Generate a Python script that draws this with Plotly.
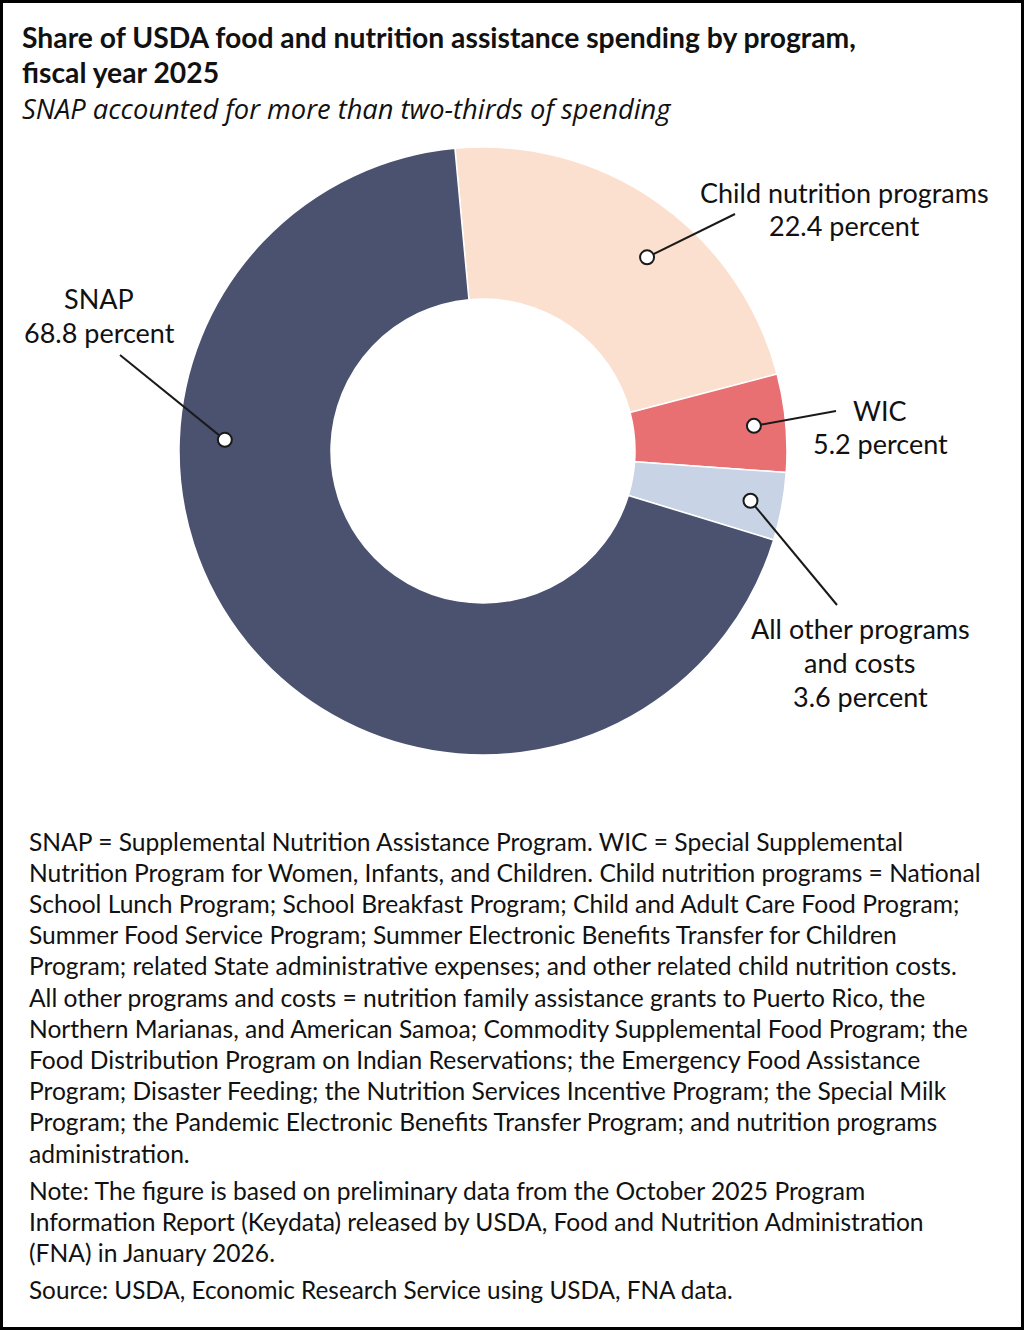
import math
import plotly.graph_objects as go

# ---- data ----
programs = ["Child nutrition programs", "WIC", "All other programs and costs", "SNAP"]
shares = [22.4, 5.2, 3.6, 68.8]
label_lines = [
    ["Child nutrition programs", "22.4 percent"],
    ["WIC", "5.2 percent"],
    ["All other programs", "and costs", "3.6 percent"],
    ["SNAP", "68.8 percent"],
]
colors = ["#fce0cf", "#e87073", "#c8d4e6", "#4a5270"]

title_lines = ["Share of USDA food and nutrition assistance spending by program,", "fiscal year 2025"]
subtitle = "SNAP accounted for more than two-thirds of spending"
notes = [
    "SNAP = Supplemental Nutrition Assistance Program. WIC = Special Supplemental",
    "Nutrition Program for Women, Infants, and Children. Child nutrition programs = National",
    "School Lunch Program; School Breakfast Program; Child and Adult Care Food Program;",
    "Summer Food Service Program; Summer Electronic Benefits Transfer for Children",
    "Program; related State administrative expenses; and other related child nutrition costs.",
    "All other programs and costs = nutrition family assistance grants to Puerto Rico, the",
    "Northern Marianas, and American Samoa; Commodity Supplemental Food Program; the",
    "Food Distribution Program on Indian Reservations; the Emergency Food Assistance",
    "Program; Disaster Feeding; the Nutrition Services Incentive Program; the Special Milk",
    "Program; the Pandemic Electronic Benefits Transfer Program; and nutrition programs",
    "administration.",
]
note2 = [
    "Note: The figure is based on preliminary data from the October 2025 Program",
    "Information Report (Keydata) released by USDA, Food and Nutrition Administration",
    "(FNA) in January 2026.",
]
source = "Source: USDA, Economic Research Service using USDA, FNA data."

# ---- layout geometry (pixels) ----
W, H = 1024, 1330
CX, CY, R = 483, 451, 304
HOLE = 0.5
ROT = -5.3
FONT = "Lato"
TXT = "#111111"

def px(x):
    return x / W

def py(y):
    return 1 - y / H

fig = go.Figure()
fig.add_trace(go.Pie(
    labels=programs, values=shares, sort=False, direction="clockwise",
    rotation=ROT, hole=HOLE, textinfo="none", hoverinfo="label+percent",
    marker=dict(colors=colors, line=dict(color="white", width=1.5)),
    domain=dict(x=[px(CX - R), px(CX + R)], y=[py(CY + R), py(CY - R)]),
    showlegend=False,
))

# leader dots: position within slice (fraction of slice angle, fraction of radius)
dot_pos = [(0.565, 0.835), (0.5, 0.895), (0.5, 0.895), (0.668, 0.85)]
line_end = [(735, 214), (836, 411), (837, 605), (120, 355)]
label_center = [(844, 192), (880, 410), (860, 628), (99, 298)]
LBL_SPACING = 34

total = sum(shares)
shapes = []
annotations = []

def text_line(x, y, s, size, anchor="left", family=FONT):
    annotations.append(dict(x=px(x), y=py(y), xref="paper", yref="paper",
                            text=s, showarrow=False, xanchor=anchor, yanchor="middle",
                            align=anchor, font=dict(family=family, size=size, color=TXT)))

cum = 0.0
for i, v in enumerate(shares):
    frac_a, frac_r = dot_pos[i]
    ang = math.radians(ROT + 360 * (cum + v * frac_a) / total)
    cum += v
    r = R * frac_r
    dx, dy = CX + r * math.sin(ang), CY - r * math.cos(ang)
    ex, ey = line_end[i]
    shapes.append(dict(type="line", xref="paper", yref="paper",
                       x0=px(dx), y0=py(dy), x1=px(ex), y1=py(ey),
                       line=dict(color="#1a1a1a", width=2)))
    rr = 7
    shapes.append(dict(type="circle", xref="paper", yref="paper",
                       x0=px(dx - rr), x1=px(dx + rr), y0=py(dy + rr), y1=py(dy - rr),
                       fillcolor="white", line=dict(color="#1a1a1a", width=2)))
    lx, ly = label_center[i]
    for j, s in enumerate(label_lines[i]):
        text_line(lx, ly + j * LBL_SPACING, s, 27, anchor="center")

# frame
shapes.append(dict(type="rect", xref="paper", yref="paper", x0=0, y0=0, x1=1, y1=1,
                   line=dict(color="black", width=6), fillcolor="rgba(0,0,0,0)"))

for j, s in enumerate(title_lines):
    text_line(20, 37 + j * 35, "<b>" + s + "</b>", 28.3)
text_line(20, 108, "<i>" + subtitle + "</i>", 27.3, family="Open Sans")

for j, s in enumerate(notes):
    text_line(27, 841 + j * 31.2, s, 24.6)
for j, s in enumerate(note2):
    text_line(27, 1190 + j * 31.2, s, 24.6)
text_line(27, 1289, source, 24.3)

fig.update_layout(
    width=W, height=H, autosize=False,
    margin=dict(l=0, r=0, t=0, b=0),
    paper_bgcolor="white", plot_bgcolor="white",
    shapes=shapes, annotations=annotations,
    font=dict(family=FONT),
)
fig.write_html("out.html", config={"displayModeBar": False},
               post_script="document.body.style.margin='0';")
